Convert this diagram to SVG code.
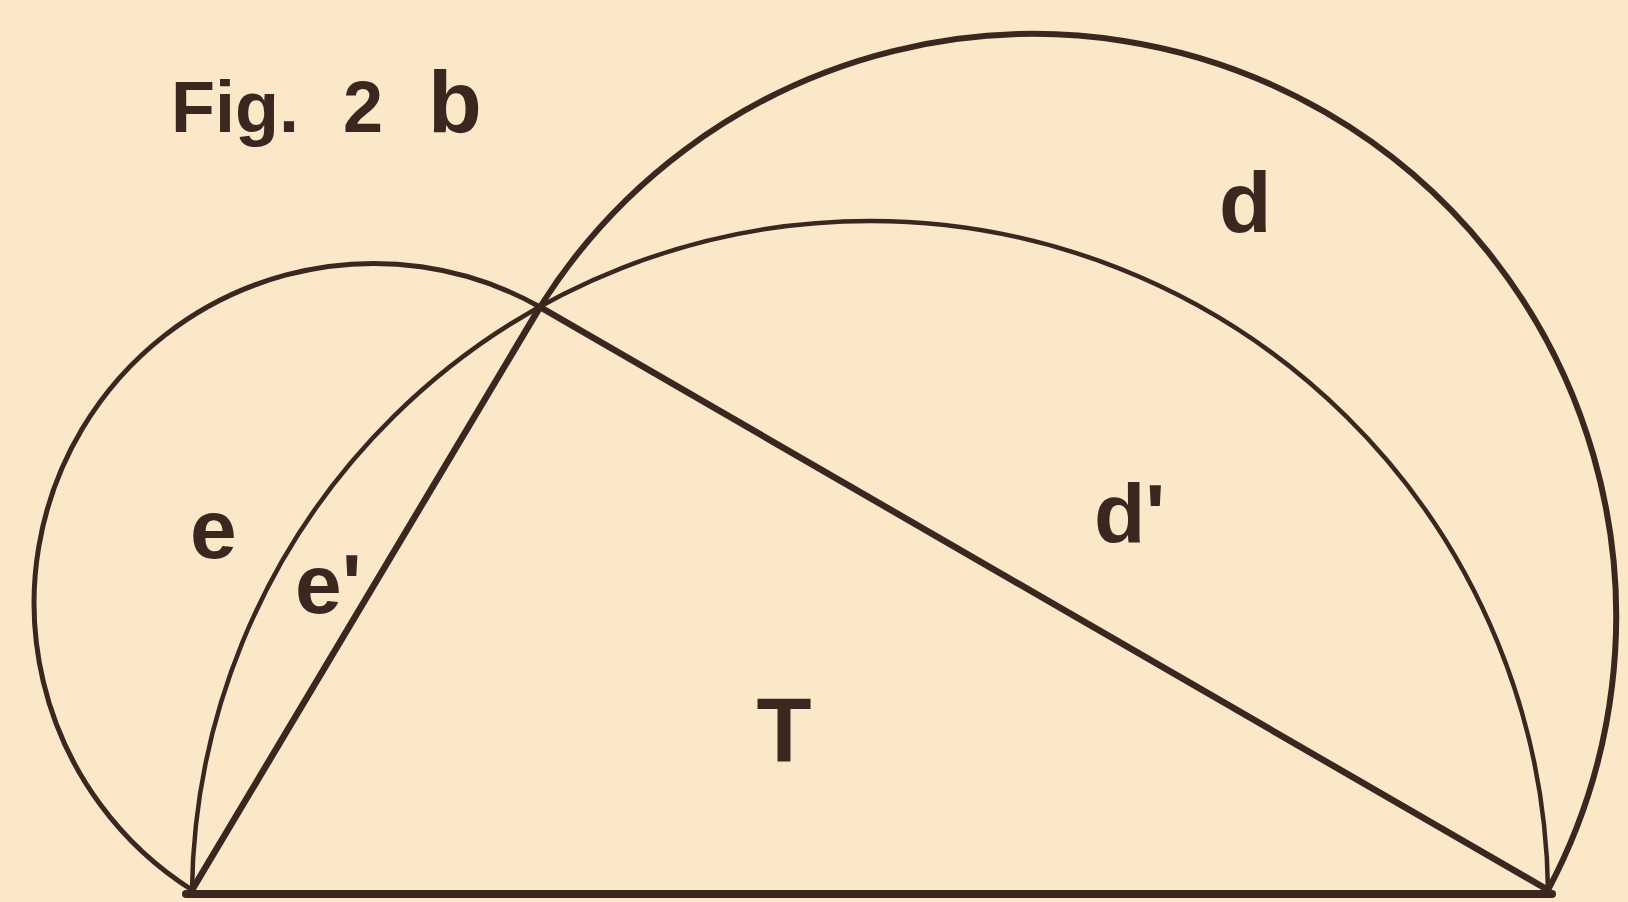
<svg xmlns="http://www.w3.org/2000/svg" width="1628" height="902" viewBox="0 0 1628 902">
<style>
.ln{fill:none;stroke:#3a2820;stroke-linecap:round;stroke-linejoin:round}
.lb{font-family:"Liberation Sans",Arial,sans-serif;font-weight:bold;fill:#3a2820}
</style>
<rect x="0" y="0" width="1628" height="902" fill="#fae8c8"/>
<g id="arcs">
<path id="arc-e" class="ln" stroke-width="5" d="M192,890 A339.6,339.6 0 0 1 540,307"/>
<path id="arc-d" class="ln" stroke-width="6" d="M540,307 A582.6,582.6 0 0 1 1548,890"/>
<path id="arc-e-d-prime" class="ln" stroke-width="4.5" d="M192,890 A678.06,678.06 0 0 1 1548,890"/>
</g>
<g id="triangle">
<line class="ln" stroke-width="6.5" x1="192" y1="890" x2="540" y2="307"/>
<line class="ln" stroke-width="6.5" x1="540" y1="307" x2="1548" y2="890"/>
<line class="ln" stroke-width="8" stroke-linecap="butt" x1="186" y1="894" x2="1552" y2="894"/>
</g>
<g id="labels">
<text class="lb" x="171" y="132" font-size="72">Fig.</text>
<text class="lb" x="343" y="132" font-size="72">2</text>
<text class="lb" x="428" y="132" font-size="88">b</text>
<text class="lb" x="190" y="558" font-size="84">e</text>
<text class="lb" x="295" y="613" font-size="84">e'</text>
<text class="lb" x="784" y="762" font-size="90" text-anchor="middle">T</text>
<text class="lb" x="1094" y="543" font-size="84">d'</text>
<text class="lb" x="1219" y="232" font-size="86">d</text>
</g>
</svg>
